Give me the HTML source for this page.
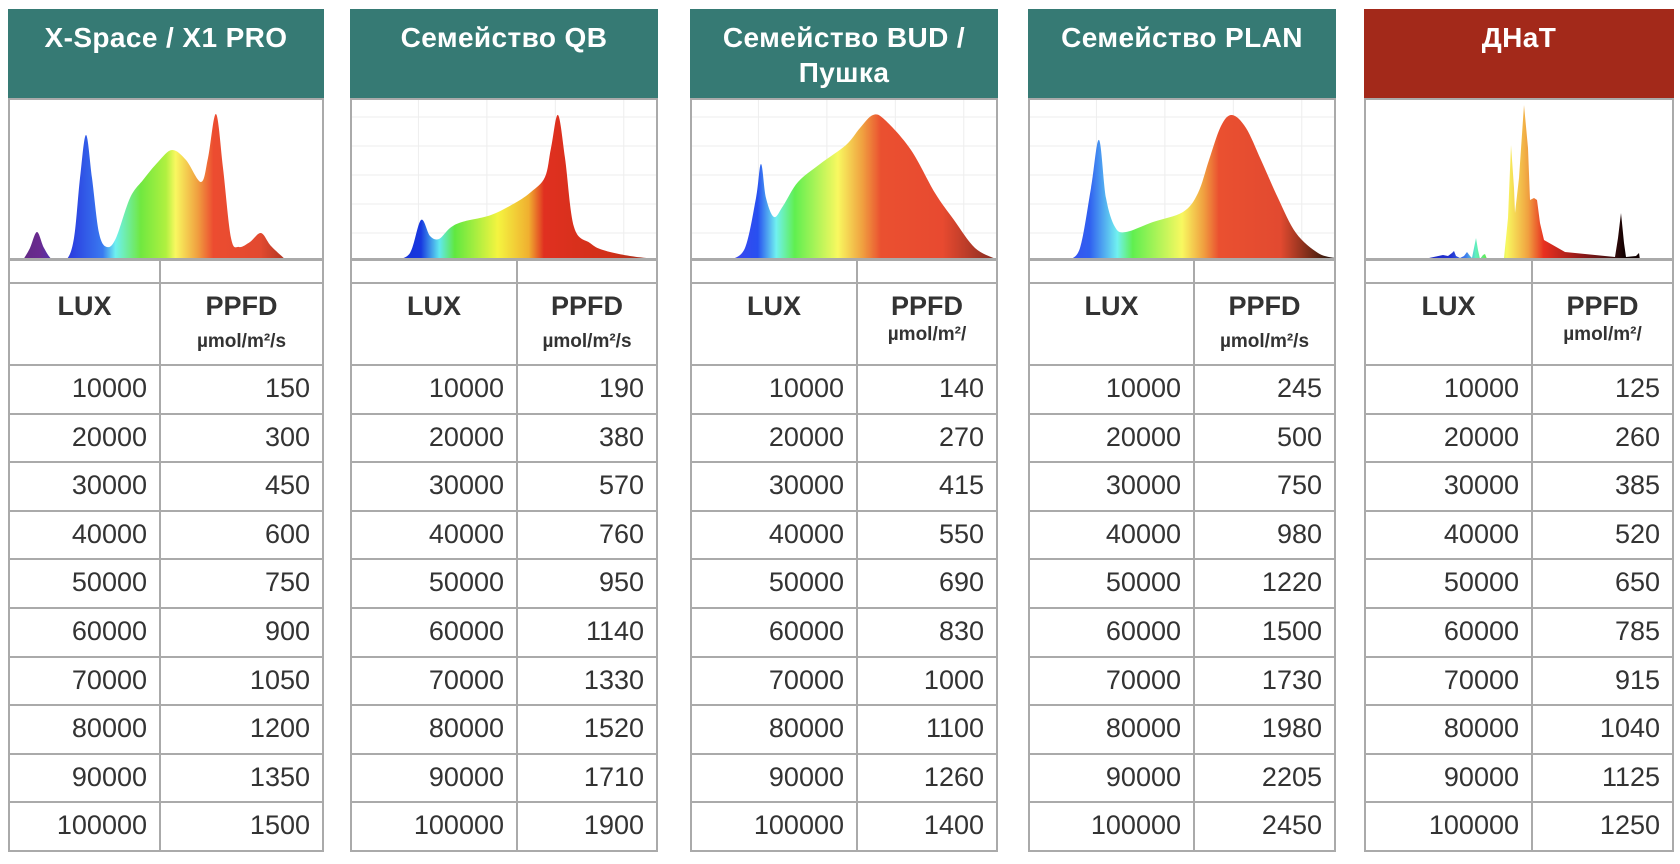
<!DOCTYPE html>
<html><head><meta charset="utf-8">
<style>
body{margin:0;width:1680px;height:864px;background:#fff;position:relative;overflow:hidden;font-family:"Liberation Sans",sans-serif;}
.panel{position:absolute;top:9px;}
.hdr{position:absolute;left:0;top:0;height:89px;color:#fff;font-weight:bold;font-size:28px;letter-spacing:0.4px;text-align:center;line-height:35px;padding-top:11px;box-sizing:border-box;white-space:nowrap;}
.teal{background:#367a74;}
.red{background:#a3291a;}
.spec{position:absolute;top:89px;left:0;height:163px;border:2px solid #aaa;box-sizing:border-box;background:#fff;overflow:hidden;}
.cell{position:absolute;border:2px solid #aaa;box-sizing:border-box;color:#333;}
.num{font-size:27px;text-align:right;padding-right:12px;line-height:44px;}
.th{font-weight:bold;font-size:27px;text-align:center;padding-top:7px;line-height:30px;}
.sub{font-size:19px;font-weight:bold;display:block;line-height:24px;margin-top:9px;}
</style></head><body>
<div id="root"></div>
<script>
const titles=["X-Space / X1 PRO","Семейство QB","Семейство BUD /<br>Пушка","Семейство PLAN","ДНаТ"];
const units=["µmol/m²/s","µmol/m²/s","µmol/m²/","µmol/m²/s","µmol/m²/"];
const lux=[10000,20000,30000,40000,50000,60000,70000,80000,90000,100000];
const ppfdX1=[150,300,450,600,750,900,1050,1200,1350,1500];
const ppfdQB=[190,380,570,760,950,1140,1330,1520,1710,1900];
const ppfdBUD=[140,270,415,550,690,830,1000,1100,1260,1400];
const ppfdPLAN=[245,500,750,980,1220,1500,1730,1980,2205,2450];
const ppfdDNAT=[125,260,385,520,650,785,915,1040,1125,1250];
const ppfdAll=[ppfdX1,ppfdQB,ppfdBUD,ppfdPLAN,ppfdDNAT];
const lefts=[8,350,690,1028,1364],widths=[316,308,308,308,310],splits=[151,166,166,165,167];
const specPts=[
[[15,162],[22,150],[29,134],[36,150],[45,162],[58,162],[66,140],[72,80],[78,37],[84,80],[91,135],[99,149],[108,140],[122,100],[135,82],[150,64],[164,52],[178,62],[193,84],[200,60],[208,16],[215,70],[223,140],[231,149],[242,144],[253,135],[263,148],[278,162]],
[[45,162],[60,155],[71,122],[80,138],[89,141],[100,130],[112,124],[141,117],[165,105],[181,94],[195,79],[201,50],[208,17],[215,60],[224,129],[240,145],[253,152],[280,158],[308,161]],
[[40,162],[55,150],[66,100],[71,66],[76,100],[84,119],[93,108],[108,84],[130,66],[156,47],[170,30],[183,17],[195,22],[221,52],[245,95],[264,122],[285,150],[306,161]],
[[40,162],[52,150],[63,90],[71,42],[78,100],[87,129],[98,134],[125,124],[155,114],[170,95],[181,62],[193,28],[204,17],[218,30],[233,62],[250,100],[268,135],[290,155],[307,160]]
];
const dnat=[[50,162],[65,160],[79,157],[84,158],[88,155],[90,153],[92,158],[96,160],[100,158],[103,154],[106,158],[108,160],[110,150],[112,140],[114,152],[116,161],[119,157],[121,156],[123,161],[140,160],[144,120],[147,47],[150,90],[151,115],[155,80],[160,7],[164,50],[166,102],[170,100],[173,102],[176,125],[180,142],[201,154],[251,159],[254,140],[257,115],[260,145],[262,159],[272,158],[275,155],[276,162]];
const grads=[
[[0,"#5a2a7a"],[0.1,"#6a2a90"],[0.2,"#2a3fe0"],[0.3,"#3a7af0"],[0.34,"#6ef0f0"],[0.42,"#70e840"],[0.5,"#b0f040"],[0.53,"#f8f860"],[0.6,"#f0a040"],[0.65,"#ec4c30"],[0.8,"#e24a30"],[0.9,"#a03020"]],
[[0,"#1020c0"],[0.23,"#1838e0"],[0.29,"#60e8f0"],[0.34,"#60e840"],[0.48,"#f4f440"],[0.58,"#f0b030"],[0.63,"#e03020"],[0.85,"#d03018"],[1,"#903020"]],
[[0,"#5a30f0"],[0.22,"#2850f0"],[0.28,"#70f0f0"],[0.34,"#60ef50"],[0.48,"#f8f860"],[0.56,"#f0a040"],[0.62,"#ea5030"],[0.82,"#e84a30"],[1,"#802a20"]],
[[0,"#4030f0"],[0.2,"#3060f0"],[0.29,"#70f0f0"],[0.34,"#60ef50"],[0.5,"#f8f860"],[0.57,"#f0a040"],[0.62,"#ea5030"],[0.82,"#e24a30"],[0.95,"#502010"],[1,"#101010"]],
[[0,"#1010a0"],[0.28,"#2030d0"],[0.33,"#4080f0"],[0.36,"#60f0c0"],[0.4,"#60e840"],[0.46,"#f8f860"],[0.53,"#f0a040"],[0.58,"#e83020"],[0.7,"#901818"],[0.8,"#401010"],[0.84,"#100000"],[1,"#100000"]]
];
function smooth(p){let d=`M${p[0][0]},${p[0][1]}`;for(let i=0;i<p.length-1;i++){const a=p[i-1]||p[i],b=p[i],c=p[i+1],e=p[i+2]||c;
const c1=[b[0]+(c[0]-a[0])/6,b[1]+(c[1]-a[1])/6],c2=[c[0]-(e[0]-b[0])/6,c[1]-(e[1]-b[1])/6];
d+=` C${c1[0].toFixed(1)},${Math.min(162,c1[1]).toFixed(1)} ${c2[0].toFixed(1)},${Math.min(162,c2[1]).toFixed(1)} ${c[0]},${c[1]}`;}return d+" Z";}
const root=document.getElementById('root');
for(let k=0;k<5;k++){
 const L=lefts[k],W=widths[k],S=splits[k];
 const p=document.createElement('div');p.className='panel';p.style.left=L+'px';p.style.width=W+'px';
 
 
 let h=`<div class="hdr ${k==4?'red':'teal'}" style="width:${W}px">${titles[k]}</div>`;
 let path=k<4?smooth(specPts[k]):("M"+dnat.map(q=>q.join(',')).join(' L')+" Z");
 let stops=grads[k].map(s=>`<stop offset="${s[0]}" stop-color="${s[1]}"/>`).join('');
 let grid='';if(k>0&&k<4){for(let gx=1;gx<5;gx++)grid+=`<line x1="${gx*W/4.5}" y1="0" x2="${gx*W/4.5}" y2="162" stroke="#eee"/>`;for(let gy=1;gy<6;gy++)grid+=`<line x1="0" y1="${gy*29-10}" x2="${W}" y2="${gy*29-10}" stroke="#eee"/>`;}
 h+=`<div class="spec" style="width:${W}px"><svg width="${W}" height="163" style="position:absolute;left:-2px;top:-2px"><defs><linearGradient id="g${k}" x1="0" x2="${W}" gradientUnits="userSpaceOnUse">${stops}</linearGradient></defs>${grid}<path d="${path}" fill="url(#g${k})"/></svg></div>`;
 h+=`<div class="cell" style="left:0;top:249px;width:${S+2}px;height:26px"></div><div class="cell" style="left:${S}px;top:249px;width:${W-S}px;height:26px"></div>`;
 h+=`<div class="cell th" style="left:0;top:273px;width:${S+2}px;height:84px">LUX</div><div class="cell th" style="left:${S}px;top:273px;width:${W-S}px;height:84px">PPFD<span class="sub" style="${(k==2||k==4)?'margin-top:2px':''}">${units[k]}</span></div>`;
 p.innerHTML=h;
 for(let r=0;r<lux.length;r++){
  const top=355+r*48.6;
  const a=document.createElement('div');a.className='cell num';a.style.cssText=`left:0;top:${top}px;width:${S+2}px;height:50.6px`;a.textContent=lux[r];
  
  
  const b=document.createElement('div');b.className='cell num';b.style.cssText=`left:${S}px;top:${top}px;width:${W-S}px;height:50.6px`;b.textContent=ppfdAll[k][r];
  
  
  p.appendChild(a);p.appendChild(b);
 }
 root.appendChild(p);
}
</script>
</body></html>
